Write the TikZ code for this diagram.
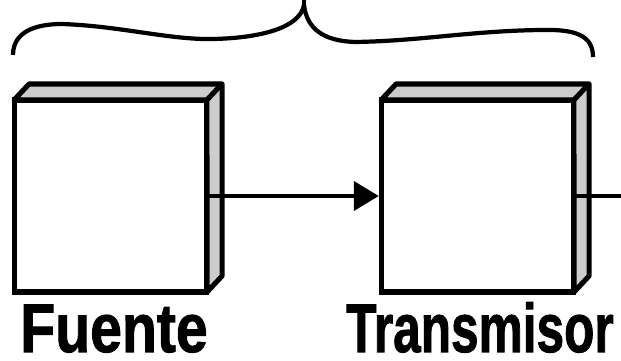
\documentclass[tikz,border=0pt]{standalone}
\usepackage{fontspec}
\setmainfont{Liberation Sans}
\newfontfamily\gruesa[FakeBold=1.5]{Liberation Sans Bold}
\usetikzlibrary{arrows.meta}

\definecolor{lateral}{gray}{0.8}

\begin{document}
\begin{tikzpicture}[x=0.025cm, y=-0.025cm,
    bloque/.style={draw, fill=white, line width=3.6pt, minimum width=4.82cm,
      minimum height=4.8cm, inner sep=0pt, outer sep=0pt},
    cara/.style={draw, fill=lateral, line width=3.6pt, line join=round},
    linea/.style={line width=3pt},
    rotulo/.style={font=\gruesa\fontsize{49}{50}\selectfont, inner sep=0pt,
      anchor=base west}]
  \clip (0,0) rectangle (621,361);

  % Bloques
  \node[bloque] (fuente) at (110.5,196) {};
  \node[bloque] (transmisor) at (477.5,196) {};

  % Tapa y costado de cada bloque
  \foreach \b in {fuente, transmisor} {
    \draw[cara] (\b.north west) -- ++(15,-16) -- ++(193,0) -- ++(0,192)
      -- ++(-15,16) -- (\b.north east) -- cycle;
    \draw[cara] (\b.north east) -- ++(15,-16);
  }

  % Conexiones
  \coordinate (salida) at (640,196);
  \draw[linea, -{Triangle[length=17.8pt, width=20.6pt]}, shorten >=1.6pt]
    (fuente.east) -- (transmisor.west);
  \draw[linea] (transmisor.east) -- (salida);

  % Llave
  \draw[linea] (13,55) .. controls (13,32) and (35,24) .. (62,24)
    .. controls (120,26) and (170,40) .. (213,39)
    .. controls (260,38) and (300,28) .. (304,5)
    .. controls (307,30) and (325,41) .. (355,42)
    .. controls (420,41) and (470,31) .. (540,30)
    .. controls (575,29) and (593,35) .. (593,57);
  \draw[linea] (304,5) -- (304,-5);

  % Nombres
  \node[rotulo] (nfuente) at (20,352) {\scalebox{0.83}[1]{Fuente}};
  \node[rotulo] (ntransmisor) at (346,352) {\scalebox{0.72}[1]{Transmisor}};
\end{tikzpicture}
\end{document}
